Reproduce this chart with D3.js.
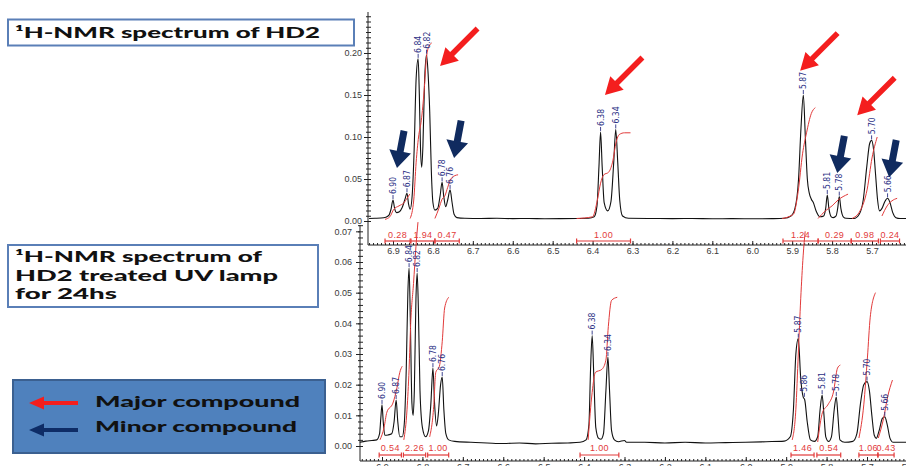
<!DOCTYPE html>
<html><head><meta charset="utf-8">
<script src="https://cdn.jsdelivr.net/npm/d3@7/dist/d3.min.js"></script>
<style>body{margin:0;background:#fff;} svg{display:block;}</style>
</head><body>
<svg id="c" width="906" height="466"></svg>
<script>
// ---------------- DATA ----------------
const xTickValues = [6.9,6.8,6.7,6.6,6.5,6.4,6.3,6.2,6.1,6.0,5.9,5.8,5.7,5.6];
const topYTicks = [0,0.05,0.10,0.15,0.20];
const bottomYTicks = [0,0.01,0.02,0.03,0.04,0.05,0.06,0.07];

// top spectrum: HD2 [ppm, intensity]
const topSpectrum = [
[6.960,0.0030],[6.945,0.0032],[6.930,0.0035],[6.918,0.0045],[6.910,0.0070],[6.905,0.0140],[6.900,0.0250],[6.896,0.0150],[6.891,0.0100],[6.884,0.0110],[6.877,0.0160],[6.870,0.0260],[6.865,0.0330],[6.861,0.0200],[6.857,0.0140],[6.852,0.0300],[6.847,0.0850],[6.842,0.1700],[6.837,0.1930],[6.834,0.1500],[6.831,0.0850],[6.828,0.0640],[6.825,0.0900],[6.821,0.1650],[6.816,0.1980],[6.812,0.1750],[6.808,0.1300],[6.804,0.0600],[6.800,0.0220],[6.795,0.0130],[6.788,0.0150],[6.782,0.0300],[6.777,0.0460],[6.773,0.0300],[6.768,0.0170],[6.763,0.0250],[6.757,0.0370],[6.752,0.0220],[6.747,0.0080],[6.740,0.0040],[6.720,0.0032],[6.680,0.0030],[6.640,0.0032],[6.600,0.0028],[6.560,0.0030],[6.520,0.0027],[6.480,0.0028],[6.440,0.0030],[6.410,0.0033],[6.396,0.0050],[6.389,0.0180],[6.384,0.0650],[6.380,0.1060],[6.376,0.0650],[6.371,0.0220],[6.362,0.0120],[6.354,0.0230],[6.347,0.0700],[6.342,0.1090],[6.337,0.0700],[6.332,0.0250],[6.325,0.0060],[6.310,0.0032],[6.250,0.0030],[6.200,0.0028],[6.150,0.0030],[6.100,0.0027],[6.050,0.0028],[6.000,0.0026],[5.950,0.0028],[5.920,0.0032],[5.903,0.0060],[5.893,0.0150],[5.884,0.0500],[5.878,0.1100],[5.872,0.1500],[5.867,0.1000],[5.862,0.0500],[5.857,0.0330],[5.852,0.0260],[5.847,0.0220],[5.840,0.0120],[5.830,0.0050],[5.821,0.0060],[5.816,0.0150],[5.812,0.0310],[5.808,0.0150],[5.802,0.0050],[5.797,0.0040],[5.790,0.0060],[5.786,0.0150],[5.782,0.0290],[5.778,0.0150],[5.772,0.0050],[5.765,0.0032],[5.745,0.0030],[5.732,0.0080],[5.722,0.0250],[5.713,0.0650],[5.706,0.0920],[5.701,0.0960],[5.696,0.0850],[5.691,0.0550],[5.686,0.0250],[5.681,0.0120],[5.675,0.0150],[5.668,0.0230],[5.661,0.0270],[5.655,0.0220],[5.648,0.0100],[5.640,0.0040],[5.630,0.0030],[5.580,0.0030]
];

// bottom spectrum: HD2 after UV 24 h [ppm, intensity]
const bottomSpectrum = [
[6.955,0.0012],[6.940,0.0016],[6.925,0.0018],[6.913,0.0020],[6.906,0.0040],[6.903,0.0090],[6.900,0.0134],[6.897,0.0080],[6.893,0.0035],[6.885,0.0036],[6.876,0.0040],[6.870,0.0080],[6.865,0.0150],[6.861,0.0080],[6.856,0.0030],[6.850,0.0030],[6.845,0.0070],[6.840,0.0250],[6.836,0.0500],[6.833,0.0580],[6.830,0.0420],[6.826,0.0140],[6.823,0.0100],[6.820,0.0180],[6.816,0.0480],[6.813,0.0564],[6.810,0.0450],[6.806,0.0180],[6.800,0.0060],[6.792,0.0030],[6.785,0.0050],[6.779,0.0140],[6.774,0.0254],[6.770,0.0140],[6.765,0.0065],[6.761,0.0100],[6.755,0.0200],[6.751,0.0225],[6.747,0.0120],[6.742,0.0040],[6.735,0.0020],[6.720,0.0015],[6.680,0.0012],[6.640,0.0010],[6.600,0.0008],[6.560,0.0010],[6.520,0.0007],[6.480,0.0009],[6.440,0.0010],[6.410,0.0012],[6.395,0.0020],[6.388,0.0070],[6.384,0.0250],[6.380,0.0360],[6.376,0.0230],[6.371,0.0060],[6.364,0.0025],[6.358,0.0022],[6.352,0.0040],[6.346,0.0180],[6.341,0.0290],[6.337,0.0180],[6.332,0.0050],[6.325,0.0020],[6.315,0.0014],[6.300,0.0018],[6.295,0.0012],[6.250,0.0012],[6.200,0.0010],[6.150,0.0012],[6.100,0.0010],[6.050,0.0011],[6.000,0.0012],[5.950,0.0014],[5.905,0.0016],[5.890,0.0030],[5.882,0.0120],[5.876,0.0300],[5.870,0.0350],[5.864,0.0220],[5.858,0.0160],[5.854,0.0150],[5.848,0.0080],[5.840,0.0020],[5.830,0.0015],[5.822,0.0030],[5.816,0.0120],[5.811,0.0166],[5.807,0.0110],[5.802,0.0030],[5.795,0.0015],[5.788,0.0030],[5.781,0.0120],[5.776,0.0160],[5.772,0.0100],[5.767,0.0020],[5.755,0.0012],[5.735,0.0015],[5.725,0.0040],[5.716,0.0140],[5.708,0.0200],[5.700,0.0210],[5.694,0.0180],[5.688,0.0100],[5.682,0.0035],[5.677,0.0025],[5.670,0.0050],[5.662,0.0090],[5.656,0.0095],[5.650,0.0070],[5.643,0.0025],[5.635,0.0012],[5.600,0.0012]
];

// integral curves [ppm, height]
const topIntegrals = [
 [[6.920,0.002],[6.908,0.005],[6.898,0.014],[6.885,0.018],[6.872,0.022],[6.865,0.027],[6.858,0.032]],
 [[6.857,0.003],[6.848,0.025],[6.842,0.070],[6.836,0.100],[6.829,0.120],[6.822,0.155],[6.816,0.195],[6.810,0.208],[6.803,0.212]],
 [[6.795,0.003],[6.785,0.015],[6.777,0.026],[6.770,0.030],[6.763,0.040],[6.755,0.050],[6.745,0.054],[6.737,0.055]],
 [[6.440,0.003],[6.400,0.005],[6.388,0.025],[6.380,0.045],[6.372,0.055],[6.360,0.058],[6.350,0.070],[6.341,0.094],[6.333,0.103],[6.320,0.105],[6.305,0.105]],
 [[5.925,0.003],[5.897,0.008],[5.885,0.035],[5.874,0.080],[5.864,0.105],[5.852,0.128],[5.842,0.135]],
 [[5.835,0.003],[5.817,0.012],[5.800,0.018],[5.785,0.025],[5.760,0.032]],
 [[5.750,0.003],[5.730,0.012],[5.712,0.038],[5.700,0.075],[5.687,0.100]],
 [[5.675,0.006],[5.662,0.018],[5.650,0.024],[5.637,0.027]]
];
const bottomIntegrals = [
 [[6.905,0.002],[6.895,0.006],[6.888,0.011],[6.873,0.014],[6.863,0.019],[6.856,0.024],[6.850,0.026]],
 [[6.846,0.002],[6.838,0.012],[6.833,0.025],[6.829,0.040],[6.822,0.053],[6.816,0.065],[6.811,0.073]],
 [[6.782,0.003],[6.772,0.013],[6.767,0.024],[6.758,0.026],[6.751,0.034],[6.745,0.045],[6.735,0.0485]],
 [[6.390,0.002],[6.380,0.0175],[6.372,0.024],[6.356,0.025],[6.346,0.028],[6.340,0.039],[6.332,0.0475],[6.318,0.0485]],
 [[5.885,0.002],[5.876,0.012],[5.870,0.030],[5.864,0.048],[5.858,0.062],[5.853,0.070]],
 [[5.822,0.0013],[5.810,0.011],[5.797,0.0134],[5.783,0.0176],[5.773,0.0254],[5.766,0.0264]],
 [[5.720,0.0026],[5.708,0.0134],[5.699,0.0287],[5.692,0.042],[5.679,0.050]],
 [[5.672,0.0026],[5.659,0.009],[5.649,0.016],[5.637,0.0215]]
];

// integration ranges [from ppm, to ppm, value]
const topRanges = [[6.920,6.857,"0.28"],[6.855,6.795,"1.94"],[6.795,6.734,"0.47"],[6.440,6.305,"1.00"],[5.923,5.835,"1.24"],[5.835,5.752,"0.29"],[5.752,5.684,"0.98"],[5.679,5.631,"0.24"]];
const bottomRanges = [[6.907,6.852,"0.54"],[6.847,6.792,"2.26"],[6.787,6.735,"1.00"],[6.410,6.314,"1.00"],[5.888,5.831,"1.46"],[5.824,5.765,"0.54"],[5.720,5.673,"1.06"],[5.673,5.633,"0.43"]];

// peak picking labels [label, ppm, height]
const topPeaks = [["6.90",6.900,0.025],["6.87",6.865,0.033],["6.84",6.837,0.193],["6.82",6.816,0.198],["6.78",6.777,0.046],["6.76",6.757,0.037],["6.38",6.380,0.106],["6.34",6.342,0.109],["5.87",5.872,0.150],["5.81",5.812,0.031],["5.78",5.782,0.029],["5.70",5.701,0.096],["5.66",5.661,0.027]];
const bottomPeaks = [["6.90",6.900,0.0134],["6.87",6.865,0.015],["6.84",6.833,0.058],["6.82",6.813,0.0564],["6.78",6.774,0.0254],["6.76",6.751,0.0225],["6.38",6.380,0.036],["6.34",6.341,0.029],["5.87",5.870,0.035],["5.86",5.855,0.0157],["5.81",5.811,0.0166],["5.78",5.776,0.016],["5.70",5.700,0.021],["5.66",5.656,0.0095]];

// annotation arrows: tip [ppm, height] in top spectrum
const majorArrowTips = [[6.782,0.1845],[6.369,0.150],[5.880,0.179],[5.737,0.126]];
const minorArrowTips = [[6.890,0.063],[6.747,0.075],[5.787,0.057],[5.657,0.052]];

const titleTop = "¹H-NMR spectrum of HD2";
const titleBottom = ["¹H-NMR spectrum of","HD2 treated UV lamp","for 24hs"];
const legendLabels = ["Major compound","Minor compound"];

// ---------------- DRAW ----------------
const svg = d3.select("#c");
const RED = "#f41e1e", NAVY = "#102b5f", INT = "#e23a3a", LBL = "#2b3185";
const FONT_T = 'Lato,"Noto Sans",sans-serif';
const FONT_A = '"Liberation Sans",Arial,sans-serif';
const FONT_N = '"Liberation Sans Narrow","DejaVu Sans Condensed","Liberation Sans",sans-serif';

const xTop = d3.scaleLinear().domain([6.9,5.7]).range([393,872]);
const yTop = d3.scaleLinear().domain([0,0.2]).range([221,53]);
const xBot = d3.scaleLinear().domain([6.9,5.7]).range([382,867]);
const yBot = d3.scaleLinear().domain([0,0.06]).range([446,262]);

// --- boxes
svg.append("rect").attr("x",8).attr("y",19.5).attr("width",346).attr("height",26)
  .attr("fill","#fff").attr("stroke","#5a7fb7").attr("stroke-width",2);
svg.append("text").attr("x",15).attr("y",38).attr("font-family",FONT_T).attr("font-weight",900)
  .attr("font-size",15).attr("fill","#111").attr("textLength",305).attr("lengthAdjust","spacingAndGlyphs").text(titleTop);

svg.append("rect").attr("x",8).attr("y",245).attr("width",310).attr("height",62)
  .attr("fill","#fff").attr("stroke","#5a7fb7").attr("stroke-width",2);
const tbLens = [247,263,102], tbY = [262,281,299];
titleBottom.forEach((t,i)=>{
  svg.append("text").attr("x",15).attr("y",tbY[i]).attr("font-family",FONT_T).attr("font-weight",900)
   .attr("font-size",14.5).attr("fill","#111").attr("textLength",tbLens[i]).attr("lengthAdjust","spacingAndGlyphs").text(t);
});

// legend
svg.append("rect").attr("x",13).attr("y",380).attr("width",312).attr("height",73)
  .attr("fill","#4f81bd").attr("stroke","#3b6090").attr("stroke-width",2);

function arrowPts(tx,ty,dx,dy,L,sw,hl,hw){
  const n=Math.hypot(dx,dy); dx/=n; dy/=n;
  const px=-dy, py=dx;
  const bx=tx-dx*hl, by=ty-dy*hl, sx=tx-dx*L, sy=ty-dy*L;
  return [[sx+px*sw/2,sy+py*sw/2],[bx+px*sw/2,by+py*sw/2],[bx+px*hw/2,by+py*hw/2],[tx,ty],
          [bx-px*hw/2,by-py*hw/2],[bx-px*sw/2,by-py*sw/2],[sx-px*sw/2,sy-py*sw/2]];
}
function drawArrow(g,pts,color){
  g.append("polygon").attr("points",pts.map(p=>p.join(",")).join(" ")).attr("fill",color);
}
drawArrow(svg, arrowPts(29,403,-1,0,49,4,15,13), RED);
drawArrow(svg, arrowPts(29,430,-1,0,49,4,15,13), "#0e2c66");
const legY=[407,432];
legendLabels.forEach((t,i)=>{
  svg.append("text").attr("x",95).attr("y",legY[i]).attr("font-family",FONT_T).attr("font-weight",900)
   .attr("font-size",15).attr("fill","#111").attr("textLength",i?202:205).attr("lengthAdjust","spacingAndGlyphs").text(t);
});

// --- axes helper
function styleAxis(g){
  g.attr("font-family",FONT_A).attr("font-size",9);
  g.select(".domain").remove();
  g.selectAll("line").attr("stroke","#222");
  g.selectAll("text").attr("fill","#3a3a3a");
}
function panelAxes(xs, ys, axX, axY, yTop_, yTicks, yMinorStep, ppmStart, labelPad){
  const g = svg.append("g");
  g.append("line").attr("x1",axX).attr("x2",axX).attr("y1",yTop_).attr("y2",axY).attr("stroke","#222");
  g.append("line").attr("x1",axX).attr("x2",906).attr("y1",axY).attr("y2",axY).attr("stroke","#222");
  const yMax = ys.invert(yTop_);
  const yMinor = d3.range(0, yMax, yMinorStep);
  const gy = g.append("g").attr("transform",`translate(${axX},0)`)
    .call(d3.axisLeft(ys).tickValues(yTicks).tickFormat(d3.format(".2f")).tickSizeInner(4).tickSizeOuter(0).tickPadding(labelPad));
  styleAxis(gy);
  const gym = g.append("g").attr("transform",`translate(${axX},0)`)
    .call(d3.axisLeft(ys).tickValues(yMinor).tickFormat("").tickSizeInner(2).tickSizeOuter(0));
  styleAxis(gym);
  const gyr = g.append("g").attr("transform",`translate(${axX},0)`)
    .call(d3.axisRight(ys).tickValues(yMinor).tickFormat("").tickSizeInner(3).tickSizeOuter(0));
  styleAxis(gyr);
  const gx = g.append("g").attr("transform",`translate(0,${axY})`)
    .call(d3.axisBottom(xs).tickValues(xTickValues).tickFormat(d3.format(".1f")).tickSizeInner(-4).tickSizeOuter(0).tickPadding(3));
  styleAxis(gx);
  const xMinor = d3.range(Math.round(ppmStart*100), 555, -1).map(v=>v/100).filter(v=>xs(v)>=axX);
  const gxm = g.append("g").attr("transform",`translate(0,${axY})`)
    .call(d3.axisBottom(xs).tickValues(xMinor).tickFormat("").tickSizeInner(-2).tickSizeOuter(0));
  styleAxis(gxm);
}
panelAxes(xTop, yTop, 368, 245, 12, topYTicks, 0.00625, 6.96, 2);
panelAxes(xBot, yBot, 360, 461, 225, bottomYTicks, 0.002, 6.95, 4);

// --- spectra
const mkLine = (xs,ys)=>d3.line().x(d=>xs(d[0])).y(d=>ys(d[1])).curve(d3.curveMonotoneX);
svg.append("path").datum(topSpectrum).attr("d",mkLine(xTop,yTop)).attr("fill","none").attr("stroke","#111").attr("stroke-width",1.1);
svg.append("path").datum(bottomSpectrum).attr("d",mkLine(xBot,yBot)).attr("fill","none").attr("stroke","#111").attr("stroke-width",1.1);

// --- integrals
topIntegrals.forEach(c=>svg.append("path").datum(c).attr("d",mkLine(xTop,yTop)).attr("fill","none").attr("stroke",INT).attr("stroke-width",1));
bottomIntegrals.forEach(c=>svg.append("path").datum(c).attr("d",mkLine(xBot,yBot)).attr("fill","none").attr("stroke",INT).attr("stroke-width",1));

// --- integration brackets
function brackets(data, xs, yLine, yText){
  const g = svg.append("g");
  data.forEach(([a,b,lab])=>{
    const x1=xs(a), x2=xs(b);
    g.append("line").attr("x1",x1).attr("x2",x2).attr("y1",yLine).attr("y2",yLine).attr("stroke",INT).attr("stroke-width",1.2);
    [x1,x2].forEach(x=>g.append("line").attr("x1",x).attr("x2",x).attr("y1",yLine-2.5).attr("y2",yLine+2.5).attr("stroke",INT).attr("stroke-width",1.2));
    g.append("text").attr("x",(x1+x2)/2).attr("y",yText).attr("text-anchor","middle")
     .attr("font-family",FONT_A).attr("font-size",9).attr("letter-spacing",0.4).attr("fill",INT).text(lab);
  });
}
brackets(topRanges, xTop, 241, 238);
brackets(bottomRanges, xBot, 455, 451);

// --- peak labels
function peakLabels(data, xs, ys){
  const g = svg.append("g");
  data.forEach(([lab,p,v])=>{
    const x=xs(p), y=ys(v);
    g.append("line").attr("x1",x).attr("x2",x).attr("y1",y-1).attr("y2",y-5).attr("stroke",LBL).attr("stroke-width",0.9);
    g.append("text").attr("transform",`translate(${x+3},${y-6}) rotate(-90)`)
     .attr("font-family",FONT_N).attr("font-size",8.5).attr("fill",LBL).text(lab);
  });
}
peakLabels(topPeaks, xTop, yTop);
peakLabels(bottomPeaks, xBot, yBot);

// --- annotation arrows
majorArrowTips.forEach(([p,v])=>drawArrow(svg, arrowPts(xTop(p),yTop(v),-37,37,53,5.5,17,19), RED));
minorArrowTips.forEach(([p,v])=>drawArrow(svg, arrowPts(xTop(p),yTop(v),-7,37,38,7,17,22), NAVY));
</script>
</body></html>
